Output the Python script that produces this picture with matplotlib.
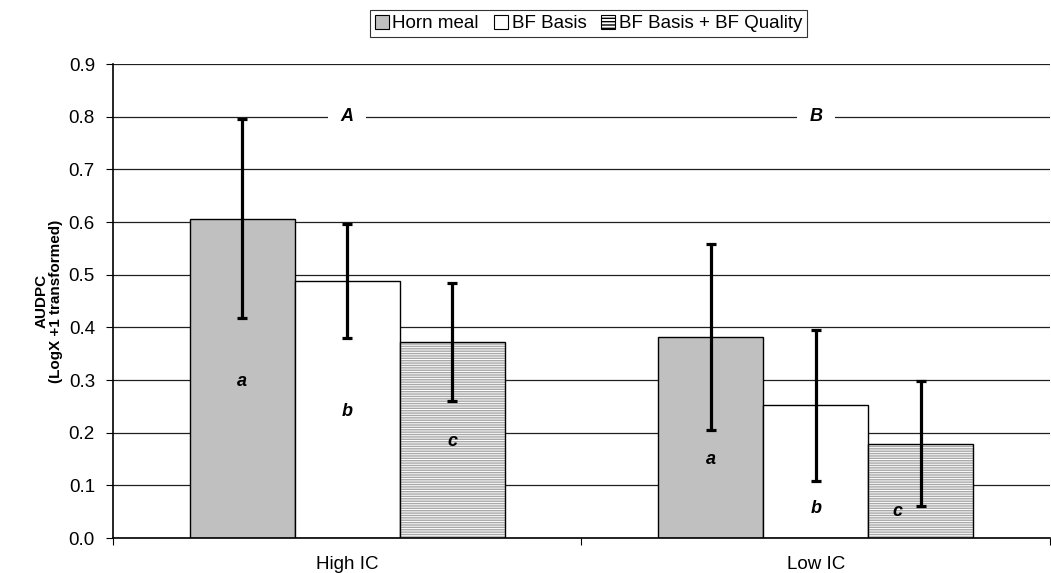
import matplotlib
matplotlib.use("Agg")
import matplotlib.pyplot as plt
import numpy as np
from matplotlib.patches import Patch

plt.rcParams['font.family'] = ['Liberation Sans', 'DejaVu Sans']

categories = ["High IC", "Low IC"]
series_names = ["Horn meal", "BF Basis", "BF Basis + BF Quality"]
horn_meal = [0.606, 0.382]
bf_basis = [0.488, 0.252]
bf_quality = [0.372, 0.179]
horn_err = [0.189, 0.177]
basis_err = [0.108, 0.144]
quality_err = [0.112, 0.119]
letters = ["a", "b", "c"]
letter_y = [[0.297, 0.241, 0.184], [0.150, 0.057, 0.051]]
letter_dx = [[0.0, 0.0, 0.0], [0.0, 0.0, -0.05]]
group_letters = ["A", "B"]

fig = plt.figure(figsize=(10.51, 5.73), dpi=100)
ax = fig.add_axes([0.1075, 0.061, 0.8915, 0.827])

width = 0.224
centers = np.arange(len(categories)) + 0.5
offsets = [-width, 0, width]

values = [horn_meal, bf_basis, bf_quality]
errs = [horn_err, basis_err, quality_err]

ax.set_axisbelow(True)
ax.yaxis.grid(True, color='#202020', linewidth=0.9)

ax.bar(centers + offsets[0], horn_meal, width, color='#c0c0c0', edgecolor='black', linewidth=1, zorder=2)
ax.bar(centers + offsets[1], bf_basis, width, color='white', edgecolor='black', linewidth=1, zorder=2)
ax.bar(centers + offsets[2], bf_quality, width, color='white', edgecolor='#a8a8a8', hatch='-------', linewidth=0, zorder=2)
ax.bar(centers + offsets[2], bf_quality, width, fill=False, edgecolor='black', linewidth=1, zorder=2.1)

for k in range(3):
    ax.errorbar(centers + offsets[k], values[k], yerr=errs[k], fmt='none', ecolor='black',
                elinewidth=2.3, capsize=3.3, capthick=2.3, zorder=3)

for i in range(len(categories)):
    for k in range(3):
        ax.text(centers[i] + offsets[k] + letter_dx[i][k], letter_y[i][k], letters[k], fontsize=13,
                fontweight='bold', fontstyle='italic', ha='center', va='center', zorder=4)
    ax.text(centers[i], 0.8, group_letters[i], fontsize=13, fontweight='bold', fontstyle='italic',
            ha='center', va='center', zorder=4,
            bbox=dict(facecolor='white', edgecolor='none', pad=9))

ax.set_xlim(0, 2)
ax.set_ylim(0, 0.9)
yt = np.arange(0, 0.91, 0.1)
ax.set_yticks(yt)
ax.set_yticklabels([f"{v:.1f}" for v in yt], fontsize=13.5)
ax.set_xticks([0, 1, 2])
ax.set_xticklabels([])
ax.set_xticks(centers, minor=True)
ax.set_xticklabels(categories, minor=True, fontsize=13.5)
ax.tick_params(axis='x', which='minor', length=0, pad=13)
ax.tick_params(axis='x', which='major', length=5, direction='out')
ax.tick_params(axis='y', length=5, direction='out', pad=8)
ax.spines['top'].set_visible(False)
ax.spines['right'].set_visible(False)
ax.spines['left'].set_linewidth(1.2)
ax.spines['bottom'].set_linewidth(1.2)

ax.set_ylabel("AUDPC\n(LogX +1 transformed)", fontsize=11, fontweight='bold', linespacing=1.1)
ax.yaxis.set_label_coords(-0.053, 0.5)

handles = [Patch(facecolor='#c0c0c0', edgecolor='black', linewidth=0.8),
           Patch(facecolor='white', edgecolor='black', linewidth=0.8),
           Patch(facecolor='white', edgecolor='black', hatch='-----', linewidth=0.8)]
leg = fig.legend(handles, series_names, loc='center', bbox_to_anchor=(0.56, 0.959), ncol=3,
                 fontsize=13.5, frameon=True, fancybox=False, edgecolor='black',
                 handlelength=0.75, handleheight=0.75, handletextpad=0.2, columnspacing=0.8,
                 borderpad=0.25, borderaxespad=0)
leg.get_frame().set_linewidth(0.8)

fig.savefig("out.png", dpi=100)
